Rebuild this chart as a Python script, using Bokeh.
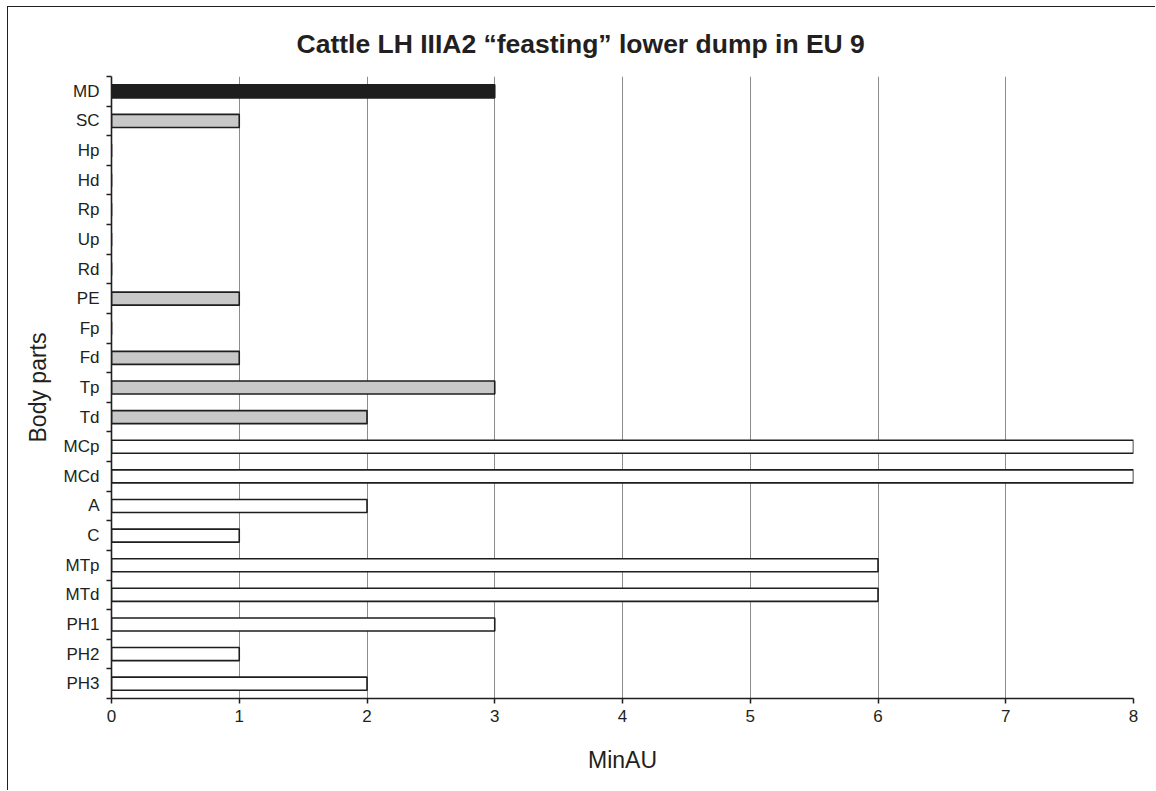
from bokeh.plotting import figure
from bokeh.models import Range1d, FixedTicker, ColumnDataSource, LinearAxis
from bokeh.embed import file_html
from bokeh.resources import INLINE

parts = ["MD", "SC", "Hp", "Hd", "Rp", "Up", "Rd", "PE", "Fp", "Fd", "Tp", "Td",
         "MCp", "MCd", "A", "C", "MTp", "MTd", "PH1", "PH2", "PH3"]
minau = [3, 1, 0, 0, 0, 0, 0, 1, 0, 1, 3, 2, 8, 8, 2, 1, 6, 6, 3, 1, 2]
groups = ["head", "axial", "upper", "upper", "upper", "upper", "upper", "upper",
          "upper", "upper", "upper", "upper",
          "lower", "lower", "lower", "lower", "lower", "lower", "lower", "lower", "lower"]
group_colors = {"head": "#1e1e1e", "axial": "#c8c8c8", "upper": "#c8c8c8", "lower": "#ffffff"}
x_ticks = [0, 1, 2, 3, 4, 5, 6, 7, 8]

TXT = "#231f20"
FONT = "Liberation Sans"

n = len(parts)
pos = [i + 0.5 for i in range(n)]
bounds = list(range(n + 1))
src = ColumnDataSource(dict(
    y=pos, right=minau, part=parts,
    color=[group_colors[g] for g in groups],
))

p = figure(width=1148, height=784, output_backend="svg", toolbar_location=None,
           x_range=Range1d(0, 8), y_range=Range1d(n, 0),
           min_border_left=103, min_border_right=23, min_border_top=69, min_border_bottom=93,
           title="Cattle LH IIIA2 \u201cfeasting\u201d lower dump in EU 9")
p.margin = (7, 0, 0, 8)
p.styles = {"box-shadow": "-1px -1px 0 0 #231f20"}
p.outline_line_color = None

p.title.text_font = FONT
p.title.text_font_size = "26.5px"
p.title.text_font_style = "bold"
p.title.text_color = TXT
p.title.align = "left"
p.title.offset = 185
p.title.standoff = 34
p.title.vertical_align = "middle"

p.hbar(y="y", left=0, right="right", height=0.44, source=src,
       fill_color="color", line_color="#1e1e1e", line_width=1.6)

# x axis
p.xaxis.ticker = FixedTicker(ticks=x_ticks)
p.xaxis.axis_label = "MinAU"
p.xaxis.axis_label_text_font = FONT
p.xaxis.axis_label_text_font_size = "23px"
p.xaxis.axis_label_text_font_style = "normal"
p.xaxis.axis_label_text_color = TXT
p.xaxis.axis_label_standoff = 22
p.xaxis.major_label_text_font = FONT
p.xaxis.major_label_text_font_size = "17px"
p.xaxis.major_label_text_color = TXT
p.xaxis.major_label_standoff = 6
p.xaxis.major_tick_in = 0
p.xaxis.major_tick_out = 5
p.xaxis.minor_tick_line_color = None
p.xaxis.axis_line_color = TXT
p.xaxis.axis_line_width = 1.6
p.xaxis.major_tick_line_color = TXT
p.xaxis.major_tick_line_width = 1.5

# inner y axis (next to the frame): axis line and ticks on the category boundaries
yax = p.yaxis[0]
yax.ticker = FixedTicker(ticks=bounds)
yax.major_label_text_color = None
yax.major_label_text_font_size = "1px"
yax.major_label_standoff = 0
yax.major_tick_in = 0
yax.major_tick_out = 5
yax.major_tick_line_color = TXT
yax.major_tick_line_width = 1.5
yax.minor_tick_line_color = None
yax.axis_line_color = TXT
yax.axis_line_width = 1.6

# outer y axis: the category names at the band centres and the axis title
lab_axis = LinearAxis(ticker=FixedTicker(ticks=pos),
                      major_label_overrides={v: lab for v, lab in zip(pos, parts)},
                      axis_line_color=None, major_tick_line_color=None,
                      minor_tick_line_color=None, major_tick_in=0, major_tick_out=0,
                      major_label_text_font=FONT, major_label_text_font_size="17px",
                      major_label_text_color=TXT, major_label_standoff=7,
                      axis_label="Body parts", axis_label_text_font=FONT,
                      axis_label_text_font_size="23px", axis_label_text_font_style="normal",
                      axis_label_text_color=TXT, axis_label_standoff=10)
p.add_layout(lab_axis, "left")

p.xgrid.ticker = FixedTicker(ticks=x_ticks)
p.xgrid.grid_line_color = "#8c8c8c"
p.xgrid.grid_line_width = 1
p.ygrid.grid_line_color = None

open("out.html", "w").write(file_html(p, INLINE))
